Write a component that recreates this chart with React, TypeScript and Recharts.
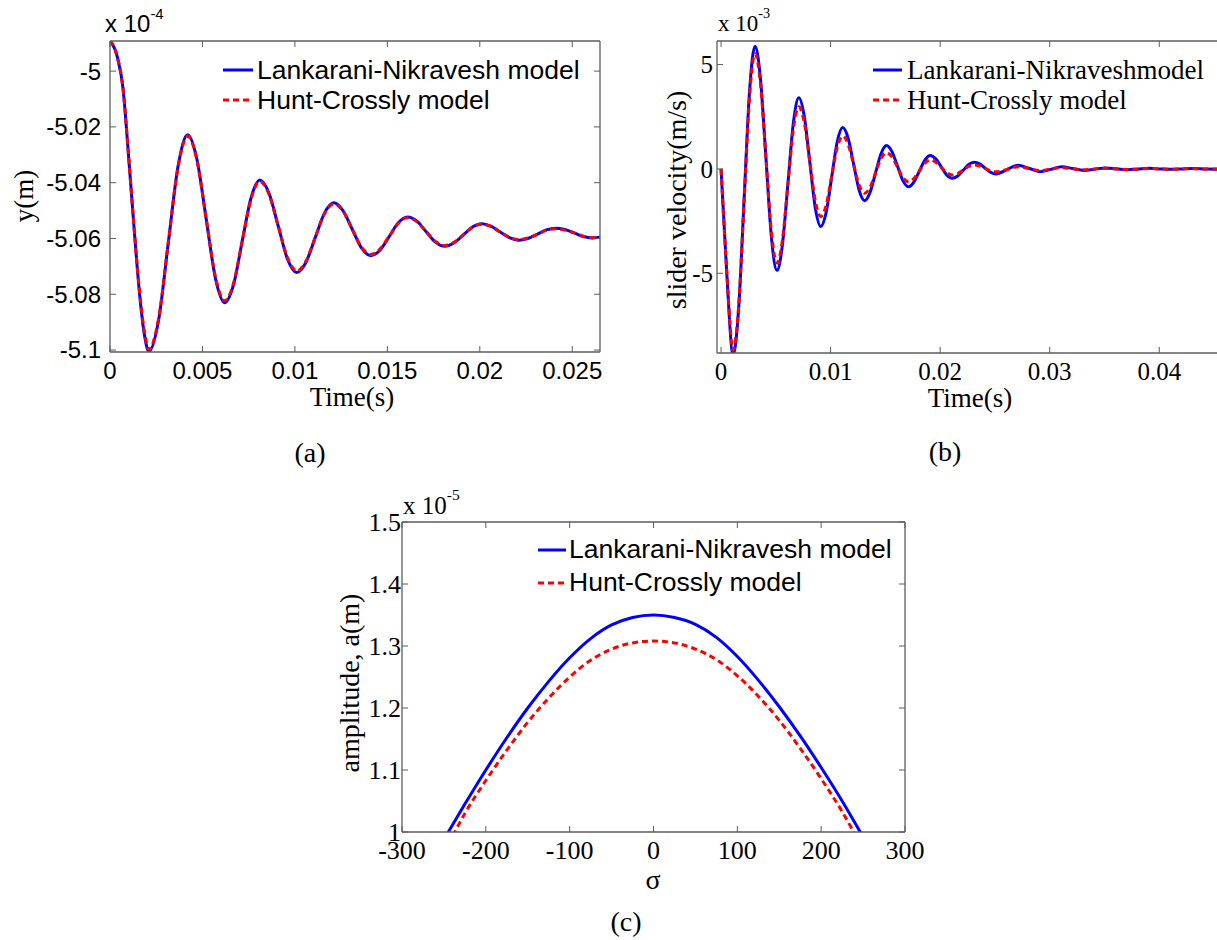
import { Legend, Line, LineChart, XAxis, YAxis } from "recharts";

// ---- (a) displacement, y in units of 1e-4 m ----
const timeA = [
  0, 0.0004, 0.0007, 0.001, 0.0013, 0.0016, 0.0019, 0.0021,
  0.00263, 0.00315, 0.00368, 0.0042,
  0.0047, 0.0052, 0.0057, 0.0062,
  0.00668, 0.00715, 0.00763, 0.0081,
  0.0086, 0.0091, 0.0096, 0.0101,
  0.0106, 0.0111, 0.0116, 0.0121,
  0.0126, 0.0131, 0.0136, 0.0141,
  0.0146, 0.0151, 0.0156, 0.0161,
  0.0166, 0.0171, 0.0176, 0.0181,
  0.0186, 0.0191, 0.0196, 0.0201,
  0.0206, 0.0211, 0.0216, 0.0221,
  0.0226, 0.0231, 0.0236, 0.0241,
  0.0246, 0.0251, 0.0256, 0.0261, 0.0265,
];
const lnA = [
  -4.989, -4.995, -5.006, -5.03, -5.056, -5.08, -5.096, -5.1005,
  -5.0892, -5.0617, -5.0341, -5.0228,
  -5.0316, -5.0529, -5.0742, -5.083,
  -5.0766, -5.061, -5.0454, -5.039,
  -5.0438, -5.0556, -5.0674, -5.0722,
  -5.0685, -5.0597, -5.0509, -5.0472,
  -5.05, -5.0567, -5.0634, -5.0662,
  -5.0642, -5.0593, -5.0543, -5.0523,
  -5.0538, -5.0576, -5.0613, -5.0628,
  -5.0616, -5.0588, -5.0559, -5.0547,
  -5.0556, -5.0577, -5.0597, -5.0606,
  -5.06, -5.0585, -5.0569, -5.0563,
  -5.0568, -5.058, -5.0593, -5.0598, -5.0596,
];
const hcA = [
  -4.989, -4.995, -5.006, -5.03, -5.056, -5.079, -5.095, -5.0998,
  -5.0886, -5.0616, -5.0345, -5.0233,
  -5.0319, -5.0528, -5.0737, -5.0823,
  -5.0761, -5.0609, -5.0458, -5.0395,
  -5.0442, -5.0556, -5.0669, -5.0716,
  -5.0681, -5.0596, -5.0511, -5.0476,
  -5.0502, -5.0567, -5.0631, -5.0657,
  -5.0638, -5.0592, -5.0545, -5.0526,
  -5.054, -5.0576, -5.0611, -5.0625,
  -5.0614, -5.0587, -5.056, -5.0549,
  -5.0557, -5.0577, -5.0596, -5.0604,
  -5.0598, -5.0585, -5.0571, -5.0565,
  -5.057, -5.058, -5.0592, -5.0597, -5.0595,
];
const xTicksA = [0, 0.005, 0.01, 0.015, 0.02, 0.025];
const yTicksA = [-5.1, -5.08, -5.06, -5.04, -5.02, -5];

// ---- (b) slider velocity, units of 1e-3 m/s ----
const timeB = [
  0, 0.0005, 0.0011,
  0.0016, 0.0021, 0.0026, 0.0031,
  0.0036, 0.0041, 0.0046, 0.0051,
  0.0056, 0.0061, 0.0066, 0.0071,
  0.0076, 0.0081, 0.0086, 0.0091,
  0.0096, 0.0101, 0.0106, 0.0111,
  0.0116, 0.0121, 0.0126, 0.0131,
  0.0136, 0.0141, 0.0146, 0.0151,
  0.0156, 0.0161, 0.0166, 0.0171,
  0.0176, 0.0181, 0.0186, 0.0191,
  0.0196, 0.0201, 0.0206, 0.0211,
  0.0216, 0.0221, 0.0226, 0.0231,
  0.0236, 0.0241, 0.0246, 0.0251,
  0.0261, 0.0271, 0.0281, 0.0291, 0.0301, 0.0311, 0.0321, 0.0331, 0.0341, 0.0351,
  0.0361, 0.0371, 0.0381, 0.0391, 0.0401, 0.0411, 0.0421, 0.0431, 0.0441, 0.0451, 0.0461,
];
const lnB = [
  0, -4.8, -8.9,
  -6.74, -1.51, 3.72, 5.88,
  4.31, 0.51, -3.29, -4.86,
  -3.65, -0.73, 2.2, 3.41,
  2.51, 0.33, -1.86, -2.76,
  -2.07, -0.39, 1.29, 1.98,
  1.47, 0.23, -1.01, -1.52,
  -1.13, -0.2, 0.73, 1.12,
  0.83, 0.14, -0.56, -0.85,
  -0.63, -0.11, 0.42, 0.64,
  0.48, 0.1, -0.29, -0.45,
  -0.34, -0.07, 0.21, 0.32,
  0.24, 0.04, -0.16, -0.24,
  -0.03, 0.18, 0.03, -0.13, -0.02, 0.1, 0.02, -0.07, -0.01, 0.05,
  0.01, -0.04, 0, 0.03, 0, -0.02, 0, 0.015, 0, -0.01, 0,
];
const hcB = [
  0, -4.7, -8.7,
  -6.62, -1.59, 3.45, 5.53,
  4.06, 0.51, -3.04, -4.51,
  -3.42, -0.77, 1.89, 2.98,
  2.21, 0.35, -1.51, -2.28,
  -1.72, -0.35, 1.02, 1.58,
  1.18, 0.21, -0.76, -1.16,
  -0.88, -0.19, 0.5, 0.78,
  0.58, 0.09, -0.41, -0.61,
  -0.46, -0.09, 0.28, 0.43,
  0.32, 0.07, -0.18, -0.29,
  -0.22, -0.05, 0.12, 0.19,
  0.14, 0.03, -0.09, -0.14,
  -0.02, 0.1, 0.02, -0.08, -0.01, 0.06, 0.01, -0.045, 0, 0.03,
  0, -0.025, 0, 0.02, 0, -0.012, 0, 0.01, 0, -0.006, 0,
];
const xTicksB = [0, 0.01, 0.02, 0.03, 0.04];
const yTicksB = [-5, 0, 5];

// ---- (c) amplitude vs sigma, units of 1e-5 m ----
const sigmaC = [
  -250, -225, -200, -175, -150, -125, -100, -75, -50, -25, 0,
  25, 50, 75, 100, 125, 150, 175, 200, 225, 250,
];
const lnC = [
  0.988, 1.045, 1.1, 1.152, 1.2, 1.243, 1.281, 1.312, 1.334, 1.346, 1.35,
  1.346, 1.335, 1.314, 1.283, 1.245, 1.202, 1.155, 1.104, 1.05, 0.992,
];
const hcC = [
  0.965, 1.03, 1.083, 1.132, 1.177, 1.216, 1.25, 1.277, 1.295, 1.305, 1.308,
  1.305, 1.295, 1.278, 1.252, 1.219, 1.18, 1.135, 1.086, 1.033, 0.972,
];
const xTicksC = [-300, -200, -100, 0, 100, 200, 300];
const yTicksC = [1, 1.1, 1.2, 1.3, 1.4, 1.5];

const SANS = '"Liberation Sans", Arial, sans-serif';
const SERIF = '"Liberation Serif", "Times New Roman", serif';
const AXIS = "#5c5c5c";
const BLUE = "#0000ff";
const RED = "#ff0000";

const rows = (xs: number[], a: number[], b: number[]) =>
  xs.map((x, i) => ({ x, ln: a[i], hc: b[i] }));

// tick renderers: MATLAB-style inward tick marks, labels outside the box
function BottomTick(props: any) {
  const { x, y, payload, tf, ts, tdy } = props;
  return (
    <g>
      <line x1={x} x2={x} y1={y} y2={y - 6} stroke={AXIS} />
      <text x={x} y={y + tdy} textAnchor="middle" style={{ fontFamily: tf, fontSize: ts, fill: "#000" }}>
        {payload.value}
      </text>
    </g>
  );
}
function LeftTick(props: any) {
  const { x, y, payload, tf, ts, tgap } = props;
  return (
    <g>
      <line x1={x} x2={x + 6} y1={y} y2={y} stroke={AXIS} />
      <text x={x - tgap} y={y} dy="0.35em" textAnchor="end" style={{ fontFamily: tf, fontSize: ts, fill: "#000" }}>
        {payload.value}
      </text>
    </g>
  );
}
function TopTick(props: any) {
  return <line x1={props.x} x2={props.x} y1={props.y} y2={props.y + 6} stroke={AXIS} />;
}
function RightTick(props: any) {
  return <line x1={props.x} x2={props.x - 6} y1={props.y} y2={props.y} stroke={AXIS} />;
}

const legendBox = (font: string, size: number, rowH: number, lineLen: number, gap: number) =>
  (props: any) => {
    const items = (props.payload || [])
      .filter((e: any) => e.type !== "none" && e.color !== "none" && e.dataKey && e.value !== e.dataKey)
      .sort((a: any, b: any) => (a.dataKey === "ln" ? 0 : 1) - (b.dataKey === "ln" ? 0 : 1));
    return (
      <div style={{ fontFamily: font, fontSize: size, color: "#000" }}>
        {items.map((e: any) => (
          <div key={e.value} style={{ display: "flex", alignItems: "center", height: rowH, whiteSpace: "nowrap" }}>
            <svg width={lineLen} height={10} style={{ flex: "none" }}>
              <line x1={0} x2={lineLen} y1={5} y2={5} stroke={e.color} strokeWidth={3}
                strokeDasharray={e.dataKey === "hc" ? "6 4" : undefined} />
            </svg>
            <span style={{ marginLeft: gap, lineHeight: 1 }}>{e.value}</span>
          </div>
        ))}
      </div>
    );
  };

function Txt(props: { x: number; y: number; size: number; font: string; rotate?: number; children: any }) {
  const { x, y, size, font, rotate, children } = props;
  return (
    <div style={{
      position: "absolute", left: x, top: y, fontSize: size, fontFamily: font, lineHeight: 1,
      whiteSpace: "nowrap", color: "#000",
      transform: `translate(-50%, -50%)${rotate ? ` rotate(${rotate}deg)` : ""}`,
    }}>{children}</div>
  );
}

function Exponent(props: { x: number; y: number; font: string; size: number; exp: string }) {
  const { x, y, font, size, exp } = props;
  return (
    <div style={{ position: "absolute", left: x, top: y, fontFamily: font, fontSize: size, lineHeight: 1, whiteSpace: "nowrap" }}>
      x 10<span style={{ fontSize: size * 0.62, position: "relative", top: -size * 0.55 }}>{exp}</span>
    </div>
  );
}

function Panel(props: {
  left: number; top: number; width: number; height: number;
  margin: { top: number; right: number; bottom: number; left: number };
  yWidth: number; xHeight: number;
  data: any[]; xDomain: [number, number]; yDomain: [number, number];
  xTicks: number[]; yTicks: number[];
  tickFont: string; tickSize: number; xDy: number; yGap: number;
  lnName: string; legend: any; legendStyle: any;
}) {
  const p = props;
  const axisLine = { stroke: AXIS, strokeWidth: 1.3 };
  return (
    <div style={{ position: "absolute", left: p.left, top: p.top }}>
      <LineChart width={p.width} height={p.height} data={p.data} margin={p.margin}>
        <XAxis xAxisId="b" dataKey="x" type="number" domain={p.xDomain} ticks={p.xTicks} allowDataOverflow
          interval={0} height={p.xHeight} tickSize={0} tickMargin={0} axisLine={axisLine} tickLine={false}
          tick={<BottomTick tf={p.tickFont} ts={p.tickSize} tdy={p.xDy} />} />
        <XAxis xAxisId="t" orientation="top" dataKey="x" type="number" domain={p.xDomain} ticks={p.xTicks}
          allowDataOverflow interval={0} height={1} tickSize={0} tickMargin={0} axisLine={axisLine}
          tickLine={false} tick={<TopTick />} />
        <YAxis yAxisId="l" type="number" domain={p.yDomain} ticks={p.yTicks} allowDataOverflow interval={0}
          width={p.yWidth} tickSize={0} tickMargin={0} axisLine={axisLine} tickLine={false}
          tick={<LeftTick tf={p.tickFont} ts={p.tickSize} tgap={p.yGap} />} />
        <YAxis yAxisId="r" orientation="right" type="number" domain={p.yDomain} ticks={p.yTicks}
          allowDataOverflow interval={0} width={1} tickSize={0} tickMargin={0} axisLine={axisLine}
          tickLine={false} tick={<RightTick />} />
        <Legend layout="vertical" align="center" verticalAlign="middle" content={p.legend} wrapperStyle={p.legendStyle} />
        {/* invisible copy bound to the top/right axes so the box edges are drawn */}
        <Line xAxisId="t" yAxisId="r" type="monotone" dataKey="ln" stroke="none" dot={false}
          legendType="none" isAnimationActive={false} />
        <Line xAxisId="b" yAxisId="l" type="monotone" dataKey="ln" name={p.lnName} stroke={BLUE}
          strokeWidth={3} dot={false} isAnimationActive={false} />
        <Line xAxisId="b" yAxisId="l" type="monotone" dataKey="hc" name="Hunt-Crossly model" stroke={RED}
          strokeWidth={3} strokeDasharray="6 4" dot={false} isAnimationActive={false} />
      </LineChart>
    </div>
  );
}

export default function App() {
  return (
    <div style={{ position: "absolute", left: 0, top: 0, width: 1217, height: 940, overflow: "hidden", background: "#fff" }}>
      <Panel left={0} top={0} width={640} height={400} margin={{ top: 40, right: 39, bottom: 0, left: 0 }}
        yWidth={110} xHeight={48} data={rows(timeA, lnA, hcA)} xDomain={[0, 0.0265]} yDomain={[-5.1007, -4.9892]}
        xTicks={xTicksA} yTicks={yTicksA} tickFont={SANS} tickSize={24} xDy={27} yGap={9}
        lnName="Lankarani-Nikravesh model" legend={legendBox(SANS, 26.5, 30, 30, 4)}
        legendStyle={{ left: 223, top: 55, width: 420, height: 60 }} />
      <Panel left={600} top={0} width={626} height={400} margin={{ top: 40, right: 0, bottom: 0, left: 0 }}
        yWidth={117} xHeight={47} data={rows(timeB, lnB, hcB)} xDomain={[-0.00037, 0.046]} yDomain={[-8.82, 6.13]}
        xTicks={xTicksB} yTicks={yTicksB} tickFont={SERIF} tickSize={25} xDy={27} yGap={4}
        lnName="Lankarani-Nikraveshmodel" legend={legendBox(SERIF, 27, 30, 29, 5)}
        legendStyle={{ left: 273, top: 55, width: 400, height: 60 }} />
      <Panel left={300} top={480} width={640} height={412} margin={{ top: 41, right: 34, bottom: 0, left: 0 }}
        yWidth={102} xHeight={60} data={rows(sigmaC, lnC, hcC)} xDomain={[-300, 300]} yDomain={[1, 1.5]}
        xTicks={xTicksC} yTicks={yTicksC} tickFont={SERIF} tickSize={26} xDy={27} yGap={1}
        lnName="Lankarani-Nikravesh model" legend={legendBox(SANS, 26.5, 33, 28, 3)}
        legendStyle={{ left: 238, top: 53, width: 420, height: 66 }} />

      <Exponent x={105} y={12} font={SANS} size={24} exp="-4" />
      <Exponent x={718} y={12} font={SERIF} size={23} exp="-3" />
      <Exponent x={403} y={493} font={SERIF} size={25} exp="-5" />

      <Txt x={24} y={196} size={27} font={SERIF} rotate={-90}>y(m)</Txt>
      <Txt x={352} y={397} size={27} font={SERIF}>Time(s)</Txt>
      <Txt x={677} y={200} size={28} font={SERIF} rotate={-90}>slider velocity(m/s)</Txt>
      <Txt x={970} y={398} size={27} font={SERIF}>Time(s)</Txt>
      <Txt x={350} y={683} size={28} font={SERIF} rotate={-90}>amplitude, a(m)</Txt>
      <Txt x={653} y={880} size={28} font={SERIF}>σ</Txt>

      <Txt x={310} y={453} size={28} font={SERIF}>(a)</Txt>
      <Txt x={945} y={452} size={28} font={SERIF}>(b)</Txt>
      <Txt x={626} y={922} size={28} font={SERIF}>(c)</Txt>
    </div>
  );
}
